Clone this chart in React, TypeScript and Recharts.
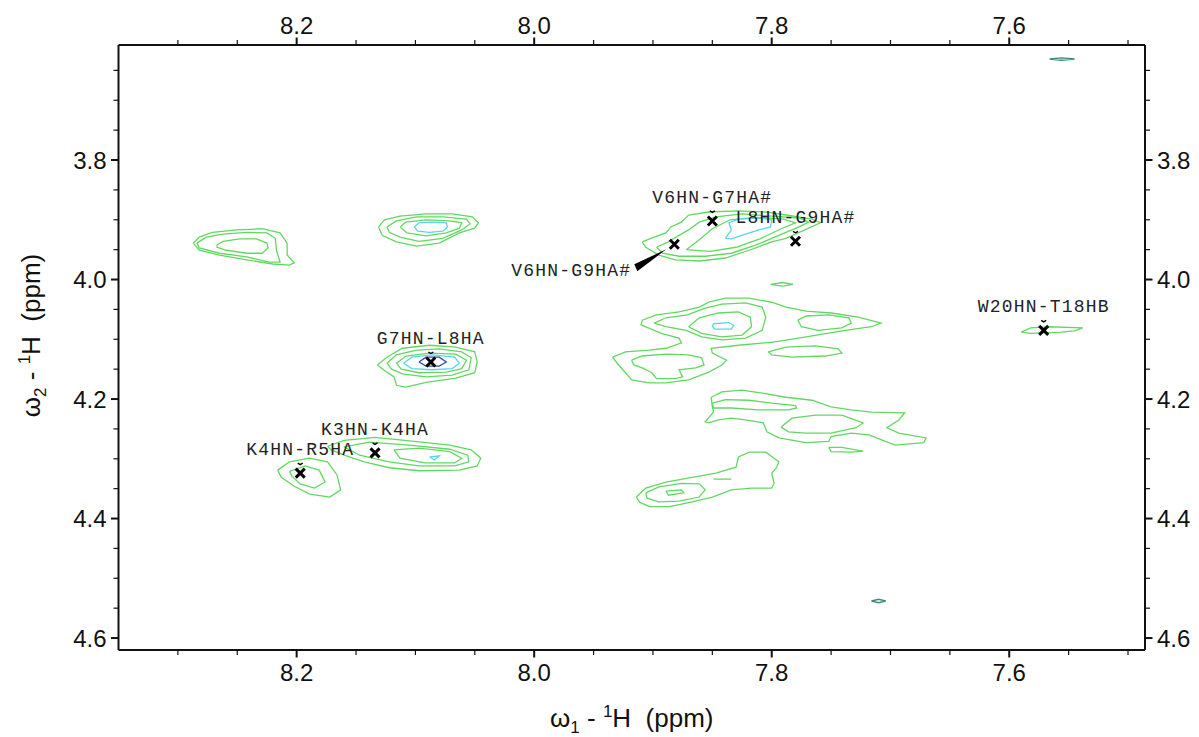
import { ScatterChart, Scatter, XAxis, YAxis, Label } from 'recharts'

// axis ranges (ppm), w1 runs right-to-left, w2 runs top-to-bottom
const W1_RANGE: [number, number] = [7.4857, 8.35]
const W2_RANGE: [number, number] = [3.6075, 4.62]
const W1_TICKS = [8.3, 8.25, 8.2, 8.15, 8.1, 8.05, 8.0, 7.95, 7.9, 7.85, 7.8, 7.75, 7.7, 7.65, 7.6, 7.55, 7.5]
const W2_TICKS = [3.65, 3.7, 3.75, 3.8, 3.85, 3.9, 3.95, 4.0, 4.05, 4.1, 4.15, 4.2, 4.25, 4.3, 4.35, 4.4, 4.45, 4.5, 4.55, 4.6]

// assigned cross peaks
const PEAK_NAMES = ['G7HN-L8HA', 'K3HN-K4HA', 'K4HN-R5HA', 'V6HN-G7HA#', 'L8HN-G9HA#', 'V6HN-G9HA#', 'W20HN-T18HB']
const PEAK_W1 = [8.087, 8.134, 8.197, 7.85, 7.78, 7.882, 7.571]
const PEAK_W2 = [4.138, 4.29, 4.324, 3.902, 3.936, 3.941, 4.085]
const PEAK_LEADER = [false, false, false, false, false, true, false]

// contour outlines, [w1, w2] in ppm
const TL_1 = [[8.287, 3.939], [8.282, 3.929], [8.271, 3.921], [8.25, 3.917], [8.229, 3.915], [8.214, 3.922], [8.208, 3.939], [8.208, 3.959], [8.202, 3.972], [8.206, 3.976], [8.22, 3.974], [8.242, 3.967], [8.265, 3.959], [8.282, 3.951]]
const TL_2 = [[8.284, 3.939], [8.276, 3.929], [8.262, 3.924], [8.242, 3.921], [8.225, 3.922], [8.218, 3.931], [8.217, 3.951], [8.214, 3.971], [8.223, 3.971], [8.242, 3.962], [8.265, 3.956], [8.282, 3.947]]
const TL_3 = [[8.267, 3.942], [8.262, 3.936], [8.248, 3.932], [8.234, 3.932], [8.225, 3.939], [8.224, 3.947], [8.229, 3.956], [8.242, 3.956], [8.259, 3.951], [8.267, 3.946]]

const TC_1 = [[8.131, 3.912], [8.126, 3.9], [8.113, 3.894], [8.091, 3.89], [8.069, 3.89], [8.052, 3.895], [8.047, 3.905], [8.05, 3.914], [8.063, 3.922], [8.08, 3.939], [8.099, 3.944], [8.116, 3.937], [8.128, 3.926]]
const TC_2 = [[8.124, 3.912], [8.116, 3.902], [8.099, 3.895], [8.077, 3.895], [8.057, 3.899], [8.054, 3.907], [8.061, 3.917], [8.077, 3.931], [8.097, 3.936], [8.113, 3.929], [8.122, 3.921]]
const TC_3 = [[8.113, 3.912], [8.108, 3.904], [8.091, 3.9], [8.071, 3.902], [8.061, 3.905], [8.063, 3.914], [8.074, 3.922], [8.091, 3.927], [8.107, 3.922]]
const TC_4 = [[8.101, 3.912], [8.097, 3.905], [8.086, 3.904], [8.074, 3.905], [8.073, 3.912], [8.077, 3.919], [8.088, 3.921], [8.098, 3.919]]

const G7_1 = [[8.132, 4.143], [8.124, 4.13], [8.111, 4.115], [8.088, 4.11], [8.066, 4.113], [8.05, 4.121], [8.048, 4.138], [8.05, 4.156], [8.066, 4.165], [8.091, 4.172], [8.108, 4.18], [8.116, 4.177], [8.118, 4.163], [8.124, 4.155]]
const G7_2 = [[8.124, 4.14], [8.116, 4.126], [8.099, 4.118], [8.08, 4.116], [8.061, 4.121], [8.053, 4.131], [8.055, 4.151], [8.069, 4.16], [8.091, 4.163], [8.111, 4.158], [8.12, 4.15]]
const G7_3 = [[8.116, 4.14], [8.108, 4.128], [8.088, 4.123], [8.066, 4.125], [8.057, 4.135], [8.061, 4.149], [8.074, 4.155], [8.097, 4.156], [8.112, 4.15]]
const G7_4 = [[8.11, 4.14], [8.103, 4.13], [8.086, 4.126], [8.067, 4.13], [8.063, 4.14], [8.069, 4.149], [8.086, 4.151], [8.103, 4.149]]
const G7_5 = [[8.097, 4.138], [8.091, 4.13], [8.08, 4.13], [8.074, 4.138], [8.08, 4.145], [8.091, 4.145]]

const K3_1 = [[8.174, 4.279], [8.16, 4.269], [8.134, 4.264], [8.105, 4.27], [8.071, 4.277], [8.053, 4.285], [8.045, 4.299], [8.048, 4.312], [8.063, 4.319], [8.097, 4.32], [8.122, 4.315], [8.143, 4.305], [8.16, 4.294], [8.171, 4.285]]
const K3_2 = [[8.16, 4.28], [8.139, 4.272], [8.105, 4.277], [8.071, 4.284], [8.056, 4.294], [8.055, 4.305], [8.067, 4.312], [8.097, 4.312], [8.122, 4.305], [8.147, 4.294]]
const K3_3 = [[8.118, 4.285], [8.097, 4.282], [8.071, 4.288], [8.061, 4.299], [8.067, 4.307], [8.092, 4.307], [8.113, 4.299]]
const K3_4 = [[8.088, 4.297], [8.08, 4.295], [8.084, 4.302]]

const K4_1 = [[8.216, 4.319], [8.206, 4.305], [8.189, 4.299], [8.174, 4.305], [8.166, 4.327], [8.163, 4.352], [8.172, 4.364], [8.189, 4.359], [8.202, 4.346], [8.213, 4.331]]
const K4_2 = [[8.206, 4.321], [8.193, 4.312], [8.181, 4.319], [8.176, 4.339], [8.185, 4.349], [8.197, 4.342], [8.204, 4.329]]

const V6_1 = [[7.909, 3.937], [7.899, 3.929], [7.889, 3.922], [7.885, 3.912], [7.876, 3.904], [7.87, 3.892], [7.853, 3.887], [7.828, 3.885], [7.805, 3.887], [7.788, 3.892], [7.766, 3.899], [7.759, 3.905], [7.769, 3.914], [7.788, 3.931], [7.8, 3.937], [7.819, 3.951], [7.839, 3.964], [7.861, 3.969], [7.881, 3.967], [7.895, 3.959], [7.906, 3.946]]
const V6_2 = [[7.897, 3.946], [7.887, 3.937], [7.878, 3.926], [7.87, 3.917], [7.861, 3.904], [7.847, 3.895], [7.825, 3.89], [7.8, 3.894], [7.777, 3.897], [7.769, 3.904], [7.777, 3.912], [7.794, 3.926], [7.813, 3.942], [7.834, 3.956], [7.856, 3.961], [7.878, 3.961], [7.892, 3.956]]
const V6_3 = [[7.872, 3.95], [7.862, 3.935], [7.85, 3.915], [7.835, 3.9], [7.812, 3.896], [7.79, 3.899], [7.78, 3.905], [7.792, 3.915], [7.81, 3.932], [7.83, 3.946], [7.852, 3.953]]
const V6_4 = [[7.839, 3.931], [7.834, 3.917], [7.836, 3.905], [7.828, 3.899], [7.811, 3.897], [7.8, 3.9], [7.801, 3.912], [7.811, 3.917], [7.825, 3.926], [7.834, 3.932]]
const V6_SIDE = [[7.801, 4.008], [7.791, 4.005], [7.782, 4.008], [7.791, 4.011]]

const MID_1 = [[7.934, 4.13], [7.923, 4.121], [7.903, 4.118], [7.889, 4.115], [7.876, 4.106], [7.878, 4.098], [7.893, 4.09], [7.91, 4.076], [7.909, 4.068], [7.897, 4.059], [7.878, 4.054], [7.861, 4.046], [7.853, 4.038], [7.839, 4.031], [7.819, 4.031], [7.8, 4.038], [7.788, 4.046], [7.771, 4.053], [7.75, 4.056], [7.727, 4.063], [7.708, 4.073], [7.716, 4.079], [7.738, 4.085], [7.771, 4.096], [7.8, 4.105], [7.828, 4.11], [7.851, 4.115], [7.85, 4.123], [7.838, 4.135], [7.842, 4.143], [7.853, 4.155], [7.87, 4.168], [7.889, 4.173], [7.903, 4.173], [7.918, 4.168], [7.923, 4.156], [7.929, 4.143]]
const MID_2 = [[7.899, 4.073], [7.889, 4.064], [7.871, 4.059], [7.856, 4.048], [7.842, 4.041], [7.822, 4.039], [7.808, 4.046], [7.805, 4.063], [7.808, 4.085], [7.822, 4.098], [7.842, 4.101], [7.859, 4.096], [7.872, 4.085], [7.889, 4.079]]
const MID_3 = [[7.87, 4.079], [7.861, 4.064], [7.845, 4.056], [7.828, 4.054], [7.818, 4.063], [7.817, 4.079], [7.825, 4.093], [7.842, 4.096], [7.859, 4.09]]
const MID_4 = [[7.849, 4.074], [7.836, 4.072], [7.832, 4.077], [7.834, 4.083], [7.848, 4.083], [7.85, 4.078]]
const MID_5 = [[7.778, 4.068], [7.771, 4.061], [7.752, 4.059], [7.735, 4.064], [7.733, 4.073], [7.741, 4.081], [7.761, 4.085], [7.775, 4.079]]
const MID_6 = [[7.803, 4.121], [7.788, 4.113], [7.763, 4.111], [7.744, 4.116], [7.741, 4.123], [7.755, 4.128], [7.783, 4.13], [7.8, 4.126]]
const MID_7 = [[7.918, 4.135], [7.909, 4.128], [7.889, 4.125], [7.87, 4.126], [7.859, 4.131], [7.857, 4.143], [7.864, 4.148], [7.878, 4.151], [7.875, 4.163], [7.881, 4.166], [7.897, 4.166], [7.901, 4.156], [7.909, 4.148], [7.916, 4.143]]

const LOW_1 = [[7.851, 4.197], [7.842, 4.188], [7.825, 4.185], [7.808, 4.19], [7.788, 4.197], [7.766, 4.202], [7.75, 4.213], [7.733, 4.218], [7.716, 4.222], [7.688, 4.223], [7.693, 4.235], [7.703, 4.248], [7.693, 4.257], [7.67, 4.265], [7.672, 4.273], [7.696, 4.277], [7.708, 4.268], [7.718, 4.26], [7.733, 4.257], [7.75, 4.263], [7.752, 4.271], [7.771, 4.273], [7.794, 4.265], [7.804, 4.255], [7.807, 4.24], [7.822, 4.235], [7.834, 4.232], [7.845, 4.235], [7.853, 4.24], [7.856, 4.238], [7.849, 4.222], [7.85, 4.213]]
const LOW_2 = [[7.85, 4.207], [7.839, 4.201], [7.819, 4.202], [7.8, 4.207], [7.78, 4.211], [7.779, 4.215], [7.786, 4.218], [7.811, 4.218], [7.834, 4.215], [7.849, 4.215]]
const LOW_3 = [[7.792, 4.247], [7.783, 4.232], [7.763, 4.227], [7.741, 4.227], [7.723, 4.24], [7.729, 4.248], [7.75, 4.257], [7.771, 4.257], [7.786, 4.255]]
const LOW_4 = [[7.752, 4.281], [7.741, 4.281], [7.723, 4.287], [7.733, 4.289], [7.75, 4.288]]

const BOT_1 = [[7.914, 4.364], [7.906, 4.349], [7.889, 4.339], [7.867, 4.331], [7.847, 4.324], [7.83, 4.314], [7.828, 4.297], [7.819, 4.289], [7.805, 4.289], [7.794, 4.305], [7.796, 4.315], [7.8, 4.324], [7.798, 4.341], [7.8, 4.349], [7.817, 4.349], [7.834, 4.352], [7.85, 4.364], [7.867, 4.372], [7.886, 4.38], [7.903, 4.38], [7.911, 4.373]]
const BOT_2 = [[7.906, 4.357], [7.895, 4.347], [7.876, 4.341], [7.861, 4.342], [7.856, 4.352], [7.861, 4.364], [7.878, 4.371], [7.895, 4.372], [7.905, 4.366]]
const BOT_3 = [[7.889, 4.354], [7.876, 4.352], [7.874, 4.357], [7.887, 4.361]]
const BOT_DASH = [[7.849, 4.334], [7.834, 4.334]]

const W20_1 = [[7.59, 4.088], [7.582, 4.081], [7.567, 4.079], [7.538, 4.081], [7.545, 4.086], [7.556, 4.088], [7.582, 4.09]]
const EDGE_TOP = [[7.566, 3.631], [7.556, 3.629], [7.545, 3.631], [7.556, 3.633]]
const EDGE_BOT = [[7.716, 4.538], [7.71, 4.535], [7.704, 4.538], [7.71, 4.541]]

const LEVEL_COLORS = ['#62d862', '#5cd3ee', '#2f4fa6', '#3e8c7e']

const CONTOURS = [
  { pts: TL_1, level: 0 }, { pts: TL_2, level: 0 }, { pts: TL_3, level: 0 },
  { pts: TC_1, level: 0 }, { pts: TC_2, level: 0 }, { pts: TC_3, level: 0 }, { pts: TC_4, level: 1 },
  { pts: G7_1, level: 0 }, { pts: G7_2, level: 0 }, { pts: G7_3, level: 0 }, { pts: G7_4, level: 1 }, { pts: G7_5, level: 2 },
  { pts: K3_1, level: 0 }, { pts: K3_2, level: 0 }, { pts: K3_3, level: 0 }, { pts: K3_4, level: 1 },
  { pts: K4_1, level: 0 }, { pts: K4_2, level: 0 },
  { pts: V6_1, level: 0 }, { pts: V6_2, level: 0 }, { pts: V6_3, level: 0 }, { pts: V6_4, level: 1 }, { pts: V6_SIDE, level: 0 },
  { pts: MID_1, level: 0 }, { pts: MID_2, level: 0 }, { pts: MID_3, level: 0 }, { pts: MID_4, level: 1 },
  { pts: MID_5, level: 0 }, { pts: MID_6, level: 0 }, { pts: MID_7, level: 0 },
  { pts: LOW_1, level: 0 }, { pts: LOW_2, level: 0 }, { pts: LOW_3, level: 0 }, { pts: LOW_4, level: 0 },
  { pts: BOT_1, level: 0 }, { pts: BOT_2, level: 0 }, { pts: BOT_3, level: 0 }, { pts: BOT_DASH, level: 0, open: true },
  { pts: W20_1, level: 0 },
]
const EDGE_CONTOURS = [EDGE_TOP, EDGE_BOT]

const toRows = (pts: number[][], open?: boolean) => {
  const rows = pts.map(([x, y]) => ({ x, y }))
  return open ? rows : [...rows, rows[0]]
}

const peakRows = PEAK_NAMES.map((name, i) => ({ x: PEAK_W1[i], y: PEAK_W2[i], name, leader: PEAK_LEADER[i] }))

const TICK_FONT = "'Liberation Sans', Arial, sans-serif"
const isMajor = (v: number) => Math.abs(v * 5 - Math.round(v * 5)) < 1e-6

const renderTick = (side: 'top' | 'bottom' | 'left' | 'right') => (props: any) => {
  const { x, y, payload } = props
  const v = payload.value
  const major = isMajor(v)
  const len = major ? 7.5 : 5
  const sw = major ? 2 : 1.2
  const label = v.toFixed(1)
  if (side === 'bottom' || side === 'top') {
    const dir = side === 'bottom' ? 1 : -1
    return (
      <g>
        <line x1={x} x2={x} y1={y} y2={y + dir * len} stroke='#111' strokeWidth={sw} />
        {major && (
          <text x={x} y={side === 'bottom' ? y + 31 : y - 11} textAnchor='middle' fontSize={24} fontFamily={TICK_FONT} fill='#111'>
            {label}
          </text>
        )}
      </g>
    )
  }
  const dir = side === 'right' ? 1 : -1
  return (
    <g>
      <line x1={x} x2={x + dir * len} y1={y} y2={y} stroke='#111' strokeWidth={sw} />
      {major && (
        <text x={x + dir * 12} y={y + 8.5} textAnchor={side === 'right' ? 'start' : 'end'} fontSize={24} fontFamily={TICK_FONT} fill='#111'>
          {label}
        </text>
      )}
    </g>
  )
}

const AxisTitle = ({ x, y, n, rotate }: { x: number; y: number; n: string; rotate?: boolean }) => (
  <text
    x={x}
    y={y}
    textAnchor='middle'
    fontSize={26}
    fontFamily={TICK_FONT}
    fill='#111'
    style={{ whiteSpace: 'pre' }}
    transform={rotate ? `rotate(-90 ${x} ${y})` : undefined}
  >
    <tspan>ω</tspan>
    <tspan dy={6} fontSize={17}>{n}</tspan>
    <tspan dy={-6}> - </tspan>
    <tspan dy={-10} fontSize={17}>1</tspan>
    <tspan dy={10}>H  (ppm)</tspan>
  </text>
)

const PeakMark = (props: any) => {
  const { cx, cy, payload } = props
  const s = 4.5
  return (
    <g>
      <path d={`M${cx - s},${cy - s}L${cx + s},${cy + s}M${cx - s},${cy + s}L${cx + s},${cy - s}`} stroke='#000' strokeWidth={3} />
      {payload.leader ? (
        <>
          <polygon points={`${cx - 8},${cy + 5} ${cx - 40},${cy + 20} ${cx - 37},${cy + 27}`} fill='#000' />
          <text x={cx - 43} y={cy + 32} textAnchor='end' fontSize={18} letterSpacing={1.2} fontFamily="'Liberation Mono', monospace" fill='#222'>
            {payload.name}
          </text>
        </>
      ) : (
        <>
          <path d={`M${cx - 2.5},${cy - 10}L${cx},${cy - 8.5}L${cx + 2.5},${cy - 10}`} stroke='#000' strokeWidth={1.4} fill='none' />
          <text x={cx} y={cy - 18} textAnchor='middle' fontSize={18} letterSpacing={1.2} fontFamily="'Liberation Mono', monospace" fill='#222'>
            {payload.name}
          </text>
        </>
      )}
    </g>
  )
}

const noShape = () => <g />

export default function App() {
  return (
    <div style={{ position: 'absolute', left: 0, top: 0, background: '#fff' }}>
      <ScatterChart width={1199} height={737} margin={{ top: 0, right: 0, bottom: 0, left: 0 }}>
        <XAxis
          xAxisId='b'
          orientation='bottom'
          type='number'
          dataKey='x'
          domain={W1_RANGE}
          allowDataOverflow
          reversed
          ticks={W1_TICKS}
          interval={0}
          tickSize={0}
          tickMargin={0}
          tickLine={false}
          tick={renderTick('bottom')}
          axisLine={{ stroke: '#111', strokeWidth: 2 }}
          height={87}
        >
          <Label
            content={(p: any) => {
              const vb = p.viewBox || { x: 118, y: 650, width: 1027 }
              return <AxisTitle x={vb.x + vb.width / 2} y={vb.y + 77} n='1' />
            }}
          />
        </XAxis>
        <XAxis
          xAxisId='t'
          orientation='top'
          type='number'
          dataKey='x'
          domain={W1_RANGE}
          allowDataOverflow
          reversed
          ticks={W1_TICKS}
          interval={0}
          tickSize={0}
          tickMargin={0}
          tickLine={false}
          tick={renderTick('top')}
          axisLine={{ stroke: '#111', strokeWidth: 2 }}
          height={45}
        />
        <YAxis
          yAxisId='l'
          orientation='left'
          type='number'
          dataKey='y'
          domain={W2_RANGE}
          allowDataOverflow
          reversed
          ticks={W2_TICKS}
          interval={0}
          tickSize={0}
          tickMargin={0}
          tickLine={false}
          tick={renderTick('left')}
          axisLine={{ stroke: '#111', strokeWidth: 2 }}
          width={118.5}
        >
          <Label
            content={(p: any) => {
              const vb = p.viewBox || { x: 0, y: 45, height: 605 }
              return <AxisTitle x={40} y={vb.y + vb.height / 2 - 12} n='2' rotate />
            }}
          />
        </YAxis>
        <YAxis
          yAxisId='r'
          orientation='right'
          type='number'
          dataKey='y'
          domain={W2_RANGE}
          allowDataOverflow
          reversed
          ticks={W2_TICKS}
          interval={0}
          tickSize={0}
          tickMargin={0}
          tickLine={false}
          tick={renderTick('right')}
          axisLine={{ stroke: '#111', strokeWidth: 2 }}
          width={54}
        />
        {EDGE_CONTOURS.map((pts, i) => (
          <Scatter
            key={'edge' + i}
            xAxisId='t'
            yAxisId='r'
            data={toRows(pts)}
            line={{ stroke: LEVEL_COLORS[3], strokeWidth: 1.4 }}
            shape={noShape}
            isAnimationActive={false}
          />
        ))}
        {CONTOURS.map((c, i) => (
          <Scatter
            key={'c' + i}
            xAxisId='b'
            yAxisId='l'
            data={toRows(c.pts, c.open)}
            line={{ stroke: LEVEL_COLORS[c.level], strokeWidth: 1.3 }}
            shape={noShape}
            isAnimationActive={false}
          />
        ))}
        <Scatter xAxisId='b' yAxisId='l' data={peakRows} shape={PeakMark} isAnimationActive={false} />
      </ScatterChart>
    </div>
  )
}
